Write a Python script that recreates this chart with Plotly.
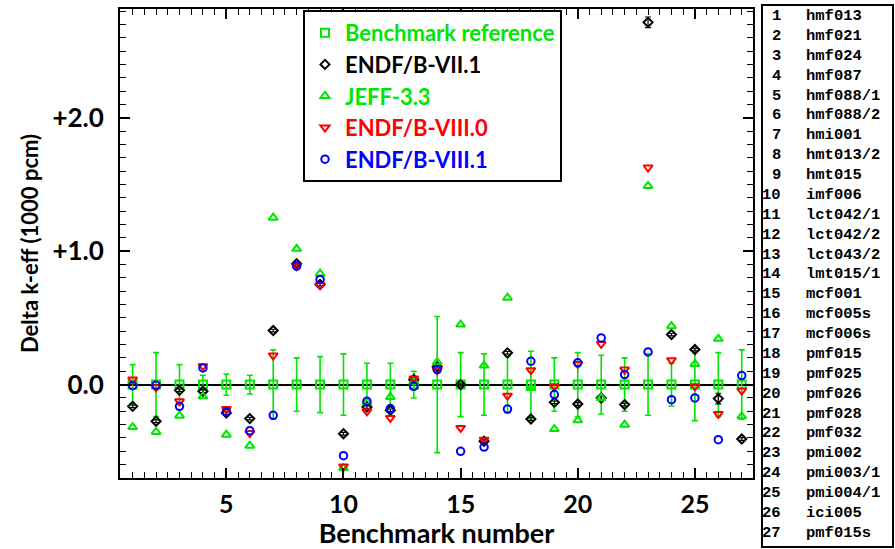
import plotly.graph_objects as go

bench_no = list(range(1, 28))
bench_names = ["hmf013", "hmf021", "hmf024", "hmf087", "hmf088/1", "hmf088/2", "hmi001",
               "hmt013/2", "hmt015", "imf006", "lct042/1", "lct042/2", "lct043/2", "lmt015/1",
               "mcf001", "mcf005s", "mcf006s", "pmf015", "pmf025", "pmf026", "pmf028", "pmf032",
               "pmi002", "pmi003/1", "pmi004/1", "ici005", "pmf015s"]
bench_ref = [0.0] * 27
bench_err = [0.15, 0.24, 0.15, 0.07, 0.08, 0.07, 0.26, 0.20, 0.21, 0.23, 0.16, 0.16, 0.10, 0.51,
             0.24, 0.23, 0.21, 0.25, 0.20, 0.24, 0.22, 0.20, 0.23, 0.16, 0.27, 0.24, 0.26]
endf71 = [-0.163, -0.275, -0.043, -0.05, -0.213, -0.255, 0.405, 0.906, 0.75, -0.368, -0.168, -0.193,
          0.038, 0.133, 0.0, -0.425, 0.238, -0.258, -0.133, -0.145, -0.10, -0.15, 2.715, 0.375,
          0.263, -0.105, -0.408]
endf71_err = [0.01] * 22 + [0.04, 0.01, 0.01, 0.04, 0.01]
jeff33 = [-0.318, -0.355, -0.233, -0.088, -0.375, -0.458, 1.251, 1.018, 0.831, -0.626, -0.13, -0.093,
          0.018, 0.168, 0.45, 0.143, 0.651, -0.025, -0.333, -0.268, -0.10, -0.30, 1.489, 0.438,
          0.155, 0.343, -0.238]
endf80 = [0.038, -0.02, -0.125, 0.138, -0.183, -0.363, 0.218, 0.888, 0.746, -0.613, -0.20, -0.25,
          0.045, 0.108, -0.325, -0.413, -0.083, 0.108, -0.013, 0.155, 0.305, 0.113, 1.627, 0.183,
          -0.013, -0.22, -0.045]
endf81 = [-0.008, -0.005, -0.163, 0.125, -0.205, -0.345, -0.23, 0.888, 0.788, -0.533, -0.125, -0.18,
          -0.013, 0.113, -0.5, -0.468, -0.183, 0.175, -0.075, 0.163, 0.35, 0.075, 0.245, -0.113,
          -0.1, -0.413, 0.068]

GREEN = "#00e600"
W, H = 895, 549
L, R, T, B = 120, 753, 9, 478

def px_x(p):
    return (p - L) / (R - L)

def px_y(p):
    return 1 - (p - T) / (B - T)

fig = go.Figure()

def lab(text, color):
    return f'<span style="color:{color}">{text}</span>'

fig.add_trace(go.Scatter(
    x=bench_no, y=bench_ref, mode="markers", name=lab("Benchmark reference", GREEN),
    marker=dict(symbol="square-open", size=8, color=GREEN, line=dict(width=2, color=GREEN)),
    error_y=dict(type="data", array=bench_err, color=GREEN, thickness=1.6, width=3)))
fig.add_trace(go.Scatter(
    x=bench_no, y=endf71, mode="markers", name=lab("ENDF/B-VII.1", "black"),
    marker=dict(symbol="diamond-open", size=7, color="black", line=dict(width=2, color="black")),
    error_y=dict(type="data", array=endf71_err, color="black", thickness=1.2, width=3)))
fig.add_trace(go.Scatter(
    x=bench_no, y=jeff33, mode="markers", name=lab("JEFF-3.3", GREEN),
    marker=dict(symbol="triangle-up-open", size=8, color=GREEN, line=dict(width=2, color=GREEN))))
fig.add_trace(go.Scatter(
    x=bench_no, y=endf80, mode="markers", name=lab("ENDF/B-VIII.0", "#ff0000"),
    marker=dict(symbol="triangle-down-open", size=8, color="#ff0000", line=dict(width=2, color="#ff0000"))))
fig.add_trace(go.Scatter(
    x=bench_no, y=endf81, mode="markers", name=lab("ENDF/B-VIII.1", "#0000ff"),
    marker=dict(symbol="circle-open", size=7.5, color="#0000ff", line=dict(width=2, color="#0000ff"))))

FONT = "Lato"
fig.update_layout(
    width=W, height=H, margin=dict(l=L, r=W - R, t=T, b=H - B),
    paper_bgcolor="white", plot_bgcolor="white",
    font=dict(family=FONT, size=20, color="black"),
    showlegend=True,
    legend=dict(x=px_x(303), y=px_y(10), xanchor="left", yanchor="top",
                bgcolor="white", bordercolor="black", borderwidth=2, tracegroupgap=0,
                font=dict(family=FONT, size=22, weight="bold"), itemwidth=30),
    xaxis=dict(range=[0.46, 27.48], tickmode="array", tickvals=[5, 10, 15, 20, 25],
               ticktext=["<b>5</b>", "<b>10</b>", "<b>15</b>", "<b>20</b>", "<b>25</b>"],
               ticks="inside", ticklen=10, tickwidth=1.5, tickcolor="black",
               minor=dict(dtick=0.5, tick0=0, ticks="inside", ticklen=6, tickwidth=1.2, tickcolor="black"),
               showline=True, linecolor="black", linewidth=2, mirror="allticks",
               showgrid=False, zeroline=False, automargin=False,
               title=dict(text="<b>Benchmark number</b>", font=dict(size=27), standoff=16),
               tickfont=dict(size=25), ticklabelstandoff=3),
    yaxis=dict(range=[-0.70, 2.815], tickmode="array", tickvals=[0, 1, 2],
               ticktext=["<b>0.0</b>", "<b>+1.0</b>", "<b>+2.0</b>"],
               ticks="inside", ticklen=10, tickwidth=1.5, tickcolor="black",
               minor=dict(dtick=0.1, tick0=0, ticks="inside", ticklen=6, tickwidth=1.2, tickcolor="black"),
               showline=True, linecolor="black", linewidth=2, mirror="allticks",
               showgrid=False, zeroline=True, zerolinecolor="black", zerolinewidth=1.6,
               automargin=False,
               title=dict(text="<b>Delta k-eff (1000 pcm)</b>", font=dict(size=22), standoff=8),
               tickfont=dict(size=26), ticklabelstandoff=9),
)

# benchmark table on the right
shapes = [dict(type="rect", xref="paper", yref="paper",
               x0=px_x(762), x1=px_x(893), y0=px_y(547), y1=px_y(5),
               line=dict(color="black", width=2), fillcolor="white", layer="below")]
annotations = []
for i, (n, name) in enumerate(zip(bench_no, bench_names)):
    yy = px_y(16 + i * 19.88)
    annotations.append(dict(xref="paper", yref="paper", x=px_x(783), y=yy, xanchor="right",
                            yanchor="middle", text=f"<b>{n}</b>", showarrow=False,
                            font=dict(family="Liberation Mono", size=15.5, color="black")))
    annotations.append(dict(xref="paper", yref="paper", x=px_x(804), y=yy, xanchor="left",
                            yanchor="middle", text=f"<b>{name}</b>", showarrow=False,
                            font=dict(family="Liberation Mono", size=15.5, color="black")))
fig.update_layout(shapes=shapes, annotations=annotations)

fig.write_html("out.html", config={"displayModeBar": False},
               post_script="document.body.style.margin='0px';")
